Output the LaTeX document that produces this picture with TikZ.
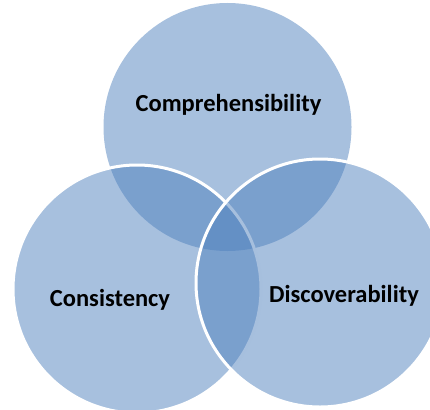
\documentclass[tikz,border=0pt]{standalone}
\usepackage{fontspec}
\setmainfont{Carlito}
\definecolor{vennblue}{RGB}{79,129,189}

\begin{document}
\begin{tikzpicture}[x=1pt, y=-1pt,
    set/.style={circle, fill=vennblue, fill opacity=0.5, minimum size=248pt, inner sep=0pt},
    rim/.style={draw=white, line width=3pt},
    lbl/.style={anchor=base, font=\fontsize{24.5}{29}\selectfont\bfseries, text=black}]
    \useasboundingbox (0,0) rectangle (430,409);
    \clip (0,0) rectangle (430,409);

    \node[set] (comp) at (227.5,127) {};
    \node[set, rim] (cons) at (137,289) {};
    \node[set, rim] (disc) at (320,283) {};

    \node[lbl] (compl) at (228.5,111) {Comprehensibility};
    \node[lbl] (consl) at (110,306.5) {Consistency};
    \node[lbl] (discl) at (344,302) {Discoverability};
  \end{tikzpicture}
\end{document}
